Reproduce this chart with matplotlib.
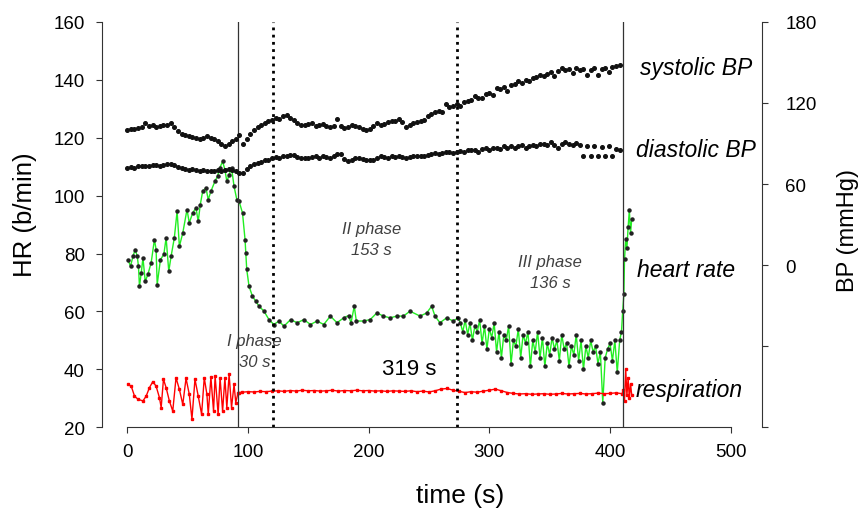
import matplotlib
matplotlib.use("Agg")
import matplotlib.pyplot as plt

plt.rcParams['font.family'] = ['Liberation Sans', 'DejaVu Sans']

# heart rate (b/min), left axis
hr_t = [0.6, 2.7, 4.7, 6.6, 8.3, 9.3, 10.1, 11.6, 13, 14.9, 17.1, 19.8, 22.5, 23.9, 24.8,
        27.5, 30.3, 32.2, 34.4, 36.3, 39, 41.3, 43.2, 46, 49.5, 51.4, 54.2, 56.9, 58.8,
        60.5, 62.5, 65.2, 67.1, 69.3, 72.6, 74.8, 76.7, 79, 80.9, 82.5, 84.4, 86.4, 88.5,
        90.8, 92.7, 95.5, 97.6, 98.2, 99, 100.9, 103.7, 106.4, 109.2, 113.3, 117.4, 121.5,
        125.7, 129.8, 135.3, 140.8, 146.3, 151.8, 157.3, 162.8, 168.3, 173.8, 179.3, 183.4,
        185.4, 188.1, 189.8, 195.8, 201.3, 206.8, 212.3, 217.8, 223.3, 228.8, 234.3, 242.6,
        248.1, 252.2, 255, 259.1, 264.6, 270.1, 274.2,
        276, 278, 280, 282, 284, 286, 288, 290, 292, 294, 296, 298, 300, 302, 304, 306,
        308, 310, 312, 314, 316, 318, 320, 322, 324, 326, 328, 330, 332, 334, 336, 338,
        340, 342, 344, 346, 348, 350, 352, 354, 356, 358, 360, 362, 364, 366, 368, 370,
        372, 374, 376, 378, 380, 382, 384, 386, 388, 390, 392, 394, 396, 398, 400, 402,
        404, 406, 408, 409.5, 410.5, 411.5, 412, 413, 414, 415, 416, 417, 418]
hr_v = [77.9, 75.6, 79, 81.4, 79, 75.6, 68.7, 73.3, 78.5, 70.4, 72.8, 76.8, 84.8, 81.4, 69.3,
        77.9, 79.7, 85.4, 73.9, 79, 85.4, 94.6, 82.5, 87.1, 95.2, 90.6, 94, 95.8, 91.1,
        96.9, 101.5, 102.7, 98.6, 101.5, 104.9, 106.7, 109.6, 111.8, 109, 104.9, 107.2, 109.6, 103.2,
        98.6, 98, 94, 84.8, 80.3, 74.5, 68.7, 65.3, 63.6, 61.8, 60.1, 57.2, 55.5,
        56.7, 54.9, 57.2, 56.1, 57.2, 55.5, 56.7, 55.5, 58.4, 56.1, 57.8, 58.6,
        56.1, 61.8, 56.7, 56.7, 57.2, 59.5, 58.4, 57.8, 58.4, 58.4, 60.1, 58.4,
        59.5, 61.8, 58.4, 56.1, 57.8, 56.7, 57.8,
        56, 53, 57, 52, 56, 50, 55, 53, 57, 49, 55, 47, 54, 51, 56, 46,
        53, 44, 52, 50, 55, 42, 50, 48, 54, 44, 52, 49, 53, 41, 50, 46,
        53, 44, 51, 41, 49, 45, 51, 47, 50, 43, 52, 47, 49, 41, 48, 45,
        52, 43, 50, 40, 48, 44, 50, 46, 48, 42, 46, 28.5, 44, 47, 49, 43,
        50, 39, 50, 53, 60, 66, 78, 85, 82, 89, 95, 87, 92]

# respiration (a.u., plotted on left scale)
resp_t = [0.6, 3.3, 6, 8.8, 13, 15.7, 18.4, 21.2, 23.9, 26.7, 28.1, 30, 32.2, 34.9, 37.7,
          40.4, 43.2, 46, 48.7, 51.4, 53.6, 56.1, 58.8, 61.6, 63.8, 66, 67.1, 69.3, 71.5,
          72.8, 75.3, 76.9, 79, 80.9, 82.5, 84.4, 86.4, 88.5, 89.9, 91.8,
          93, 95, 100, 105, 110, 115, 120, 125, 130, 135, 140, 145, 150, 155, 160, 165,
          170, 175, 180, 185, 190, 195, 200, 205, 210, 215, 220, 225, 230, 235, 240, 245,
          250, 255, 260, 265, 270, 275, 280, 285, 290, 295, 300, 305, 310, 315, 320, 325,
          330, 335, 340, 345, 350, 355, 360, 365, 370, 375, 380, 385, 390, 395, 400, 405,
          410, 411, 412, 413, 414, 415, 416, 417, 418]
resp_v = [34.8, 34.2, 30.8, 29.7, 29.1, 30.8, 33.7, 35.8, 34.2, 30.2, 26.8, 36.6, 33.7, 29.1, 25.6,
          37.1, 33.1, 27.9, 36.9, 31.4, 22.8, 36.6, 30.8, 24.5, 37.1, 31.4, 24.5, 37.3, 25.6,
          37.7, 24.5, 37.1, 25.6, 37.1, 26.8, 38.3, 26.8, 34.8, 28.5, 32,
          32, 32.1, 32.3, 32.2, 32.4, 32.3, 32.5, 32.6, 32.4, 32.7, 32.5, 32.8, 32.6, 32.7, 32.5, 32.6,
          32.8, 32.5, 32.7, 32.6, 32.8, 32.6, 32.7, 32.5, 32.6, 32.4, 32.6, 32.5, 32.4, 32.6, 32.3, 32.5,
          32.2, 32.6, 33.2, 33.4, 32.8, 32.4, 32.0, 32.3, 32.1, 32.5, 32.8, 33.2, 32.6, 32.0, 31.7, 31.5,
          31.6, 31.4, 31.5, 31.6, 31.4, 31.5, 31.7, 31.5, 31.6, 31.7, 31.5, 31.6, 31.8, 31.6, 31.7, 31.9,
          31.6, 33, 29, 40, 31, 37, 30, 35, 31]

# blood pressure (mmHg), right axis, one reading every 3 s
bp_t = list(range(0, 411, 3))
sys_v = [100, 101, 100.5, 101.5, 102, 105, 103, 103.5, 102.5, 103, 103.5, 104, 105, 102,
         99, 97, 96, 95.5, 95, 94, 93, 94, 95.5, 94, 93.5, 92, 89.5, 88, 90, 91.5, 93,
         96, 90, 93, 97, 100, 102, 104, 105.5, 107, 107.5, 109, 108, 110, 111, 109,
         107.5, 105, 104, 103.5, 104.5, 105, 103, 104, 104.5, 103, 102, 103, 108, 103,
         101.5, 102, 103.5, 103, 102, 101, 100, 100.5, 103, 105, 104, 104.5, 106, 106.5,
         107, 108, 106, 102, 103.5, 105, 106, 106.5, 107.5, 110, 112, 113, 114, 113,
         119, 117, 118, 119, 118, 120.5, 121.5, 122, 125, 123.5, 124, 127, 127.5, 126,
         131, 130, 131.5, 129, 133, 134, 136, 135, 137, 136, 138.5, 139.5, 141, 140,
         141.5, 143, 140, 144, 146, 144.5, 145.5, 142, 146, 144.5, 145, 141, 144.5, 146,
         141, 145, 146, 143, 146.5, 147, 148]
dia_v = [72, 72.5, 72, 73, 73, 73.5, 73, 74, 74, 73.5, 74, 74.5, 75, 74, 72.5, 72, 71,
         70.5, 71, 70.5, 70, 70.5, 70, 69.5, 70, 70.5, 70, 70.5, 71, 70.5, 70, 68,
         68.5, 71, 73, 75, 75.5, 76, 77.5, 78, 79, 80, 79.5, 80.5, 81, 81.5, 81.5, 80,
         79.5, 79, 79.5, 80, 80.5, 79.5, 80.5, 80, 79.5, 80.5, 82, 82.5, 78.5, 77, 78,
         79, 79.5, 78.5, 78, 78, 77.5, 79, 80.5, 80, 79.5, 80.5, 80, 80.5, 80, 79.5, 80,
         81, 80.5, 81, 80.5, 81.5, 82.5, 83, 82, 83, 83.5, 84, 83, 84, 84.5, 84, 85, 85,
         85.5, 84, 86, 86.5, 85, 86.5, 87, 86, 88, 87, 88.5, 87, 88.5, 89, 87, 88.5, 89,
         88, 89.5, 90, 89, 91, 89, 87, 90, 91, 90, 89, 90.5, 89, 81, 88, 80.5, 88, 81,
         87.5, 80.5, 88, 81, 86, 85]

fig = plt.figure(figsize=(8.61, 5.10), dpi=100)
ax = fig.add_axes([0.1185, 0.1602, 0.7662, 0.7949])
ax2 = ax.twinx()

ax.plot(hr_t, hr_v, color='#22ee22', lw=1, marker='o', ms=2.2,
        mfc='#222222', mec='#222222', zorder=3)
ax.plot(resp_t, resp_v, color='#ff0000', lw=1, marker='s', ms=1.6,
        mfc='#ff0000', mec='#ff0000', zorder=3)
ax2.plot(bp_t, sys_v, ls='none', marker='o', ms=2.6, mfc='#111111', mec='#111111')
ax2.plot(bp_t, dia_v, ls='none', marker='o', ms=2.6, mfc='#111111', mec='#111111')

for xv in (91.8, 410.9):
    ax.axvline(xv, color='#333333', lw=0.9, zorder=4)
for xv in (120.8, 273.6):
    ax.axvline(xv, color='black', lw=2, linestyle=(0, (1, 1.6)), zorder=4)

ax.set_xlim(-20.9, 525.7)
ax.set_ylim(20, 160)
ax2.set_ylim(-120, 180)

ax.set_xticks(range(0, 501, 100))
ax.set_yticks(range(20, 161, 20))
ax2.set_yticks([-120, -60, 0, 60, 120, 180])
ax2.set_yticklabels(['', '', '0', '60', '120', '180'])
for lab in ax2.get_yticklabels():
    lab.set_horizontalalignment('left')

ax.spines['top'].set_visible(False)
ax.spines['right'].set_visible(False)
ax.spines['bottom'].set_bounds(0, 500)
for s in ('top', 'left', 'bottom'):
    ax2.spines[s].set_visible(False)
for s in ax.spines.values():
    s.set_color('#333333')
ax2.spines['right'].set_color('#333333')

ax.tick_params(axis='x', direction='out', length=4.5, pad=7, labelsize=13.5, color='#333333')
ax.tick_params(axis='y', direction='out', length=4.5, pad=8, labelsize=13.5, color='#333333')
ax2.tick_params(axis='y', direction='out', length=4, pad=13, labelsize=13.5, color='#333333')

fig.text(460 / 861, 1 - 496 / 510, 'time (s)', fontsize=19, ha='center', va='center')
fig.text(25 / 861, 1 - 215 / 510, 'HR (b/min)', rotation=90, fontsize=18.5,
         ha='center', va='center')
fig.text(848 / 861, 1 - 231 / 510, 'BP (mmHg)', rotation=90, fontsize=17,
         ha='center', va='center')

phase_kw = dict(fontsize=12, style='italic', color='#404040', ha='center', va='center',
                linespacing=1.5)
ax.text(105.5, 46.4, 'I phase\n30 s', **phase_kw)
ax.text(202.6, 85.0, 'II phase\n153 s', **phase_kw)
ax.text(350.4, 73.5, 'III phase\n136 s', **phase_kw)
ax.text(233.9, 40.2, '319 s', fontsize=16, ha='center', va='center')

side_kw = dict(fontsize=16.5, style='italic', ha='left', va='center', clip_on=False)
ax.text(424.9, 144.1, 'systolic BP', **side_kw)
ax.text(421.5, 115.9, 'diastolic BP', **side_kw)
ax.text(422.4, 74.5, 'heart rate', **side_kw)
ax.text(421.5, 33.1, 'respiration', **side_kw)

fig.savefig('out.png', dpi=100)
